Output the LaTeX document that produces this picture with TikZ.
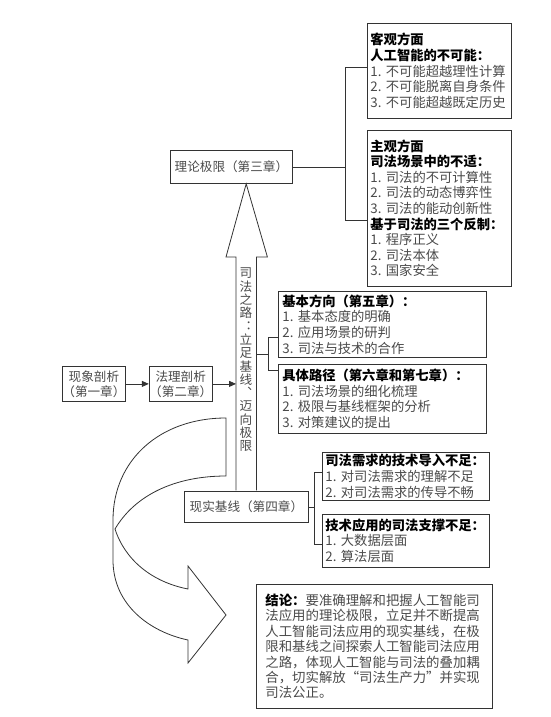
\documentclass[tikz,border=0pt]{standalone}
\usepackage{fontspec}
\setmainfont{Noto Sans CJK SC}
\usepackage{xcolor}
\usetikzlibrary{arrows.meta,positioning,calc}
\definecolor{lnGray}{HTML}{333333}
\definecolor{txGray}{HTML}{4A4A4A}
\newcommand{\hd}[1]{\textbf{\color{black}#1}}

\begin{document}
\begin{tikzpicture}[x=1pt,y=-1pt,
  box/.style={draw=lnGray,line width=0.8pt,align=left,anchor=north west,
    inner xsep=4pt,inner ysep=2pt,font=\fontsize{13.3}{15.6}\selectfont,text=txGray},
  titlebox/.style={draw=lnGray,line width=0.8pt,align=center,anchor=north west,
    inner xsep=0pt,inner ysep=1pt,font=\fontsize{12.6}{15.2}\selectfont,text=txGray},
  vtext/.style={align=center,inner sep=0pt,font=\fontsize{12.6}{13.3}\selectfont,text=txGray},
  link/.style={draw=lnGray,line width=0.8pt},
  arrow/.style={link,-{Triangle[length=7pt,width=6pt]}}
]
\useasboundingbox (0,0) rectangle (550,717);

% theory limit and its two aspects
\node[titlebox,minimum width=122pt,minimum height=33pt] (lilun) at (170,150) {理论极限（第三章）};
\node[box,text width=138pt,inner xsep=3pt,minimum height=95pt] (kg) at (367,23)
  {\hd{客观方面}\\\hd{人工智能的不可能：}\\1.~不可能超越理性计算\\2.~不可能脱离自身条件\\3.~不可能超越既定历史};
\node[box,text width=138pt,inner xsep=3pt,minimum height=156pt,below=11pt of kg] (zg)
  {\hd{主观方面}\\\hd{司法场景中的不适：}\\1.~司法的不可计算性\\2.~司法的动态博弈性\\3.~司法的能动创新性\\\hd{基于司法的三个反制：}\\1.~程序正义\\2.~司法本体\\3.~国家安全};

% chapters 1 and 2
\node[titlebox,minimum width=62pt,minimum height=35pt] (xx1) at (62,366) {现象剖析\\（第一章）};
\node[titlebox,minimum width=62pt,minimum height=35pt,right=23pt of xx1] (fl) {法理剖析\\（第二章）};

% the road: shaft of the big arrow
\node[minimum width=20pt,minimum height=233pt,inner sep=0pt,anchor=north west] (road) at (236,257) {};
\node[vtext] (roadtxt) at (246,360) {司\\法\\之\\路\\︓\\立\\足\\基\\线\\︑\\迈\\向\\极\\限};

\node[box,text width=200pt,minimum height=66pt] (jb) at (278,291)
  {\hd{基本方向（第五章）：}\\1.~基本态度的明确\\2.~应用场景的研判\\3.~司法与技术的合作};
\node[box,text width=200pt,minimum height=69pt,below=6pt of jb] (jt)
  {\hd{具体路径（第六章和第七章）：}\\1.~司法场景的细化梳理\\2.~极限与基线框架的分析\\3.~对策建议的提出};

% reality baseline
\node[titlebox,minimum width=124pt,minimum height=31pt] (xs) at (184,491) {现实基线（第四章）};
\node[box,text width=161pt,inner xsep=3pt,minimum height=48pt] (sf) at (322,452)
  {\hd{司法需求的技术导入不足：}\\1.~对司法需求的理解不足\\2.~对司法需求的传导不畅};
\node[box,text width=161pt,inner xsep=3pt,minimum height=53pt,below=13pt of sf] (js)
  {\hd{技术应用的司法支撑不足：}\\1.~大数据层面\\2.~算法层面};

% conclusion
\node[box,text width=218pt,inner xsep=9pt,inner ysep=6pt,minimum height=124pt,
  font=\fontsize{13.4}{15.4}\selectfont] (jl) at (256,584)
  {\hd{结论：}要准确理解和把握人工智能司\\
   法应用的理论极限，立足并不断提高\\
   人工智能司法应用的现实基线，在极\\
   限和基线之间探索人工智能司法应用\\
   之路，体现人工智能与司法的叠加耦\\
   合，切实解放“司法生产力”并实现\\
   司法公正。};

% big arrow outline
\draw[link] (road.south west) -- (road.north west) -- ++(-10,0)
  -- (road.north |- lilun.south) -- ($(road.north east)+(11,0)$)
  -- (road.north east) -- (road.south east);

\draw[arrow] (xx1) -- (fl);
\draw[arrow] (fl.east) -- (fl.east -| road.west);

\draw[link] (lilun.east) -- ++(53,0) coordinate (b1) |- ([yshift=3pt]kg.west);
\draw[link] (b1) |- ([yshift=-12pt]zg.west);

\draw[link] ([yshift=19pt]road.east) -- ++(12,0) coordinate (b2);
\draw[link] ([yshift=-13pt]jb.west) -| (b2) |- ([yshift=28pt]jt.west);

\draw[link] (xs.east) -- ++(6,0) coordinate (b3);
\draw[link] ([yshift=4pt]sf.west) -| (b3) |- ([yshift=-4pt]js.west);

% curved arrow towards the conclusion
\draw[link] (226,418) .. controls (160,418) and (113,460) .. (113,520) -- (113,560)
  .. controls (113,605) and (150,632) .. (188,640) -- (188,663) -- (226,615)
  -- (188,566) -- (188,589) .. controls (152,582) and (125,560) .. (115,529)
  .. controls (135,495) and (175,476) .. (226,476) -- cycle;
\end{tikzpicture}
\end{document}
